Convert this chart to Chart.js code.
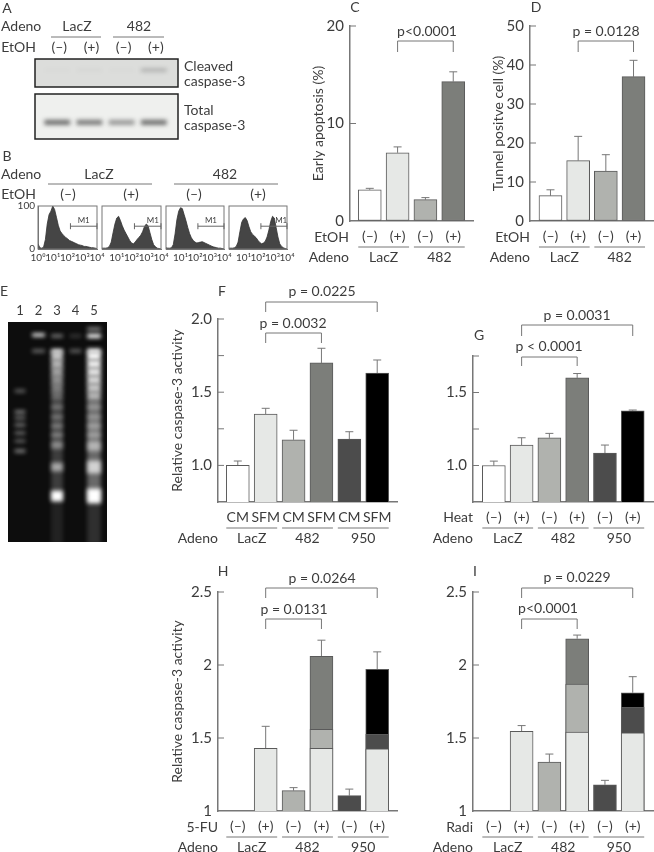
<!DOCTYPE html>
<html>
<head>
<meta charset="utf-8">
<script src="https://cdn.jsdelivr.net/npm/chart.js@4"></script>
<style>
body { margin: 0; background: #fff; }
canvas { position: absolute; left: 0; top: 0; }
</style>
</head>
<body>
<canvas id="blot" width="654" height="852"></canvas>
<canvas id="hist1" width="654" height="852"></canvas>
<canvas id="hist2" width="654" height="852"></canvas>
<canvas id="hist3" width="654" height="852"></canvas>
<canvas id="hist4" width="654" height="852"></canvas>
<canvas id="gel" width="654" height="852"></canvas>
<canvas id="panelC" width="654" height="852"></canvas>
<canvas id="panelD" width="654" height="852"></canvas>
<canvas id="panelF" width="654" height="852"></canvas>
<canvas id="panelG" width="654" height="852"></canvas>
<canvas id="panelH" width="654" height="852"></canvas>
<canvas id="panelI" width="654" height="852"></canvas>
<script>
// ---- data ----
var signLabels = ['(–)', '(+)', '(–)', '(+)'];
var signLabels6 = ['(–)', '(+)', '(–)', '(+)', '(–)', '(+)'];
var mediumLabels = ['CM', 'SFM', 'CM', 'SFM', 'CM', 'SFM'];

// A: band strength per lane
var cleavedBand = [0.02, 0.03, 0.02, 0.3];
var totalBand = [0.62, 0.56, 0.42, 0.62];

// B: histogram heights, every 1/8 decade from 10^0 to 10^4
var decades = [0, 0.125, 0.25, 0.375, 0.5, 0.625, 0.75, 0.875, 1, 1.125, 1.25, 1.375, 1.5, 1.625, 1.75, 1.875, 2, 2.125, 2.25, 2.375, 2.5, 2.625, 2.75, 2.875, 3, 3.125, 3.25, 3.375, 3.5, 3.625, 3.75, 3.875, 4];
var hist1Counts = [12, 3, 2, 4, 22, 58, 80, 88, 100, 92, 74, 55, 42, 36, 31, 27, 24, 20, 18, 16, 14, 12, 10, 9, 8, 6, 6, 5, 4, 3, 3, 2, 1];
var hist2Counts = [2, 2, 2, 3, 6, 16, 38, 58, 72, 76, 66, 54, 44, 36, 28, 20, 14, 12, 16, 22, 27, 32, 40, 52, 58, 54, 38, 22, 10, 5, 2, 1, 0];
var hist3Counts = [3, 2, 2, 3, 10, 35, 68, 88, 96, 94, 80, 66, 50, 36, 26, 20, 16, 14, 15, 16, 17, 15, 13, 11, 9, 7, 5, 4, 3, 2, 2, 1, 0];
var hist4Counts = [2, 2, 2, 3, 6, 16, 40, 62, 70, 73, 66, 52, 40, 34, 30, 26, 20, 15, 12, 14, 18, 28, 44, 64, 76, 72, 50, 28, 12, 6, 3, 1, 0];
var decadeLabels = ['10⁰', '10¹', '10²', '10³', '10⁴'];

// E: lanes, band position down the gel, half height, brightness
var laneNames = ['1', '2', '3', '4', '5'];
var lane1Pos = [69, 90, 96, 103, 111, 119, 129];
var lane1Half = [1.2, 1.2, 1.2, 1.2, 1.2, 1.2, 1.4];
var lane1Glow = [0.4, 0.55, 0.45, 0.5, 0.45, 0.4, 0.5];
var lane2Pos = [13, 29];
var lane2Half = [1.4, 1.2];
var lane2Glow = [0.95, 0.45];
var lane3Pos = [14, 29, 34, 42, 50, 58, 66, 74, 128, 85, 95, 104, 113, 123, 145, 174, 200];
var lane3Half = [1.2, 1.5, 4, 4, 4, 4, 4, 4, 50, 2.5, 2.5, 2.5, 2.5, 3.5, 4, 5, 22];
var lane3Glow = [0.5, 1, 0.75, 0.68, 0.6, 0.52, 0.45, 0.38, 0.2, 0.28, 0.28, 0.32, 0.35, 0.4, 0.55, 1, 0.09];
var lane4Pos = [14, 29];
var lane4Half = [1.2, 1.3];
var lane4Glow = [0.2, 0.4];
var lane5Pos = [7, 14, 29, 34, 42, 50, 58, 66, 74, 128, 85, 95, 104, 113, 124, 145, 174, 200];
var lane5Half = [1.2, 1.8, 2, 4, 4, 4, 4, 4, 4, 50, 2.5, 2.5, 3, 3, 4.5, 6, 7, 22];
var lane5Glow = [0.6, 1, 1, 0.95, 0.92, 0.88, 0.82, 0.75, 0.68, 0.38, 0.3, 0.3, 0.36, 0.36, 0.5, 0.7, 1, 0.14];

// C, D
var cValues = [3.2, 7.0, 2.2, 14.3];
var cErrTops = [3.35, 7.6, 2.4, 15.3];
var dValues = [6.5, 15.5, 12.8, 37];
var dErrTops = [8, 21.7, 17, 41.2];

// F, G
var fValues = [1.0, 1.35, 1.175, 1.70, 1.18, 1.63];
var fErrTops = [1.03, 1.39, 1.24, 1.80, 1.23, 1.72];
var gValues = [1.0, 1.14, 1.19, 1.60, 1.085, 1.375];
var gErrTops = [1.03, 1.19, 1.22, 1.63, 1.14, 1.38];

// H, I: cumulative levels of the segments in each column
var hBase = [null, 1.43, 1.14, 1.43, 1.105, 1.425];
var hMid = [null, null, null, 1.56, null, 1.525];
var hTop = [null, null, null, 2.06, null, 1.97];
var hErrTops = [null, 1.58, 1.16, 2.17, 1.15, 2.09];
var iBase = [null, 1.545, 1.335, 1.54, 1.18, 1.535];
var iMid = [null, null, null, 1.87, null, 1.71];
var iTop = [null, null, null, 2.18, null, 1.81];
var iErrTops = [null, 1.585, 1.39, 2.205, 1.21, 1.92];

// ---- look ----
var WHITE = '#ffffff', PALE = '#e6e8e6', MID = '#b0b2ae', DARK = '#7c7e7a', SLATE = '#4c4c4c', BLACK = '#000000';
var INK = '#3c3c3c', RULE = '#777777', EDGE = '#5a5a5a';
var FONT = 'Lato';

Chart.defaults.font.family = FONT;
Chart.defaults.font.size = 14;
Chart.defaults.color = INK;
Chart.defaults.animation = false;
Chart.defaults.responsive = false;
Chart.defaults.devicePixelRatio = 1;
Chart.defaults.plugins.legend.display = false;
Chart.defaults.plugins.tooltip.enabled = false;

function text(ctx, str, x, y, align, size) {
    ctx.save();
    ctx.font = (size || 14) + 'px ' + FONT;
    ctx.fillStyle = INK;
    ctx.textAlign = align || 'center';
    ctx.textBaseline = 'middle';
    ctx.fillText(str, x, y);
    ctx.restore();
}

function rule(ctx, x1, y1, x2, y2, color, w) {
    ctx.save();
    ctx.strokeStyle = color || RULE;
    ctx.lineWidth = w || 1;
    ctx.beginPath();
    ctx.moveTo(x1, y1);
    ctx.lineTo(x2, y2);
    ctx.stroke();
    ctx.restore();
}

function xy(values) {
    return values.map(function (v, i) { return { x: i, y: v }; });
}

// tick labels must not push the plot area around
function noMargins(s) {
    s.paddingLeft = 0;
    s.paddingRight = 0;
    s.paddingTop = 0;
    s.paddingBottom = 0;
}

// cfg.plot = [left, top, right, bottom] in page pixels
function barPanel(id, cfg) {
    var p = cfg.plot;
    var barW = 23;
    var decor = {
        id: 'decor',
        beforeDatasetsDraw: function (chart) {
            var ctx = chart.ctx, y = chart.scales.y;
            cfg.yTicks.forEach(function (v) {
                if (v !== cfg.yMin) rule(ctx, p[0], y.getPixelForValue(v), p[0] + 6, y.getPixelForValue(v));
            });
            // error bars, upward only
            var x = chart.scales.x;
            cfg.errTops.forEach(function (top, i) {
                if (top === null) return;
                var px = x.getPixelForValue(i);
                var from = y.getPixelForValue(cfg.barTops[i]);
                var to = y.getPixelForValue(top);
                rule(ctx, px, from, px, to);
                rule(ctx, px - 4, to, px + 4, to);
            });
        },
        afterDraw: function (chart) {
            var ctx = chart.ctx, x = chart.scales.x;
            cfg.groups.forEach(function (g) {
                var a = x.getPixelForValue(g.from) - barW / 2, b = x.getPixelForValue(g.to) + barW / 2;
                rule(ctx, a, cfg.groupLineY, b, cfg.groupLineY);
                text(ctx, g.name, (a + b) / 2, cfg.groupLineY + 10);
            });
            cfg.brackets.forEach(function (b) {
                var a = x.getPixelForValue(b.from), c = x.getPixelForValue(b.to);
                rule(ctx, a, b.top, c, b.top);
                rule(ctx, a, b.top, a, b.bottom);
                rule(ctx, c, b.top, c, b.bottom);
                text(ctx, b.label, b.textX, b.textY);
            });
            cfg.notes.forEach(function (n) { text(ctx, n[0], n[1], n[2], n[3], n[4]); });
        }
    };
    return new Chart(document.getElementById(id), {
        type: 'bar',
        data: { datasets: cfg.datasets },
        options: {
            layout: { padding: { left: cfg.titleLeft, top: p[1], right: 654 - p[2], bottom: 0 } },
            datasets: { bar: { barThickness: barW, grouped: false, borderWidth: 1, borderColor: EDGE, borderSkipped: false } },
            scales: {
                x: {
                    type: 'linear', offset: false, min: cfg.xMin, max: cfg.xMax,
                    afterFit: function (s) { s.height = 852 - p[3]; noMargins(s); },
                    afterBuildTicks: function (s) { s.ticks = cfg.xLabels.map(function (l, i) { return { value: i }; }); },
                    grid: { drawOnChartArea: false, drawTicks: false },
                    border: { color: RULE, width: 1.5 },
                    ticks: {
                        autoSkip: false, maxRotation: 0, padding: 7, font: { size: 14 },
                        callback: function (v) { return cfg.xLabels[v]; }
                    }
                },
                y: {
                    min: cfg.yMin, max: cfg.yMax,
                    afterFit: function (s) { s.width = p[0] - cfg.titleLeft; noMargins(s); },
                    afterBuildTicks: function (s) { s.ticks = cfg.yTicks.map(function (v) { return { value: v }; }); },
                    grid: { drawOnChartArea: false, drawTicks: false },
                    border: { color: RULE, width: 1.5 },
                    title: { display: true, text: cfg.yTitle, font: { size: 14 }, padding: 0, color: INK },
                    ticks: {
                        padding: 6, font: { size: 15 },
                        callback: function (v) { return cfg.yLabels[cfg.yTicks.indexOf(v)]; }
                    }
                }
            }
        },
        plugins: [decor]
    });
}

function plainBars(values, colors) {
    return [{ data: xy(values), backgroundColor: colors }];
}

function layeredBars(base, mid, top) {
    // first dataset is painted last in Chart.js
    return [
        { data: xy(base), backgroundColor: [WHITE, PALE, MID, PALE, SLATE, PALE] },
        { data: xy(mid), backgroundColor: [WHITE, WHITE, WHITE, MID, WHITE, SLATE] },
        { data: xy(top), backgroundColor: [WHITE, WHITE, WHITE, DARK, WHITE, BLACK] }
    ];
}

var fourColors = [WHITE, PALE, MID, DARK];
var sixColors = [WHITE, PALE, MID, DARK, SLATE, BLACK];

barPanel('panelC', {
    plot: [350, 26, 473, 221], titleLeft: 310,
    yMin: 0, yMax: 20, yTicks: [0, 10, 20], yLabels: ['0', '10', '20'], yTitle: 'Early apoptosis (%)',
    xMin: -0.71, xMax: 3.71, xLabels: signLabels,
    datasets: plainBars(cValues, fourColors), barTops: cValues, errTops: cErrTops,
    groupLineY: 247,
    groups: [{ name: 'LacZ', from: 0, to: 1 }, { name: '482', from: 2, to: 3 }],
    brackets: [{ from: 1, to: 3, top: 41, bottom: 52, label: 'p<0.0001', textX: 427, textY: 31 }],
    notes: [['C', 355, 7], ['EtOH', 349, 237, 'right'], ['Adeno', 349, 257, 'right']]
});

barPanel('panelD', {
    plot: [530, 26, 654, 221], titleLeft: 490,
    yMin: 0, yMax: 50, yTicks: [0, 10, 20, 30, 40, 50], yLabels: ['0', '10', '20', '30', '40', '50'], yTitle: 'Tunnel positve cell (%)',
    xMin: -0.74, xMax: 3.74, xLabels: signLabels,
    datasets: plainBars(dValues, fourColors), barTops: dValues, errTops: dErrTops,
    groupLineY: 247,
    groups: [{ name: 'LacZ', from: 0, to: 1 }, { name: '482', from: 2, to: 3 }],
    brackets: [{ from: 1, to: 3, top: 41, bottom: 52, label: 'p = 0.0128', textX: 606, textY: 31 }],
    notes: [['D', 536, 7], ['EtOH', 530, 237, 'right'], ['Adeno', 530, 257, 'right']]
});

barPanel('panelF', {
    plot: [218, 319, 397, 502], titleLeft: 169,
    yMin: 0.75, yMax: 2, yTicks: [0.75, 1, 1.25, 1.5, 1.75, 2], yLabels: ['', '1.0', '', '1.5', '', '2.0'], yTitle: 'Relative caspase-3 activity',
    xMin: -0.71, xMax: 5.71, xLabels: mediumLabels,
    datasets: plainBars(fValues, sixColors), barTops: fValues, errTops: fErrTops,
    groupLineY: 528,
    groups: [{ name: 'LacZ', from: 0, to: 1 }, { name: '482', from: 2, to: 3 }, { name: '950', from: 4, to: 5 }],
    brackets: [
        { from: 1, to: 5, top: 302, bottom: 312, label: 'p = 0.0225', textX: 322, textY: 291 },
        { from: 1, to: 3, top: 333, bottom: 343, label: 'p = 0.0032', textX: 293, textY: 323 }
    ],
    notes: [['F', 222, 291], ['Adeno', 218, 538, 'right']]
});

barPanel('panelG', {
    plot: [473, 356, 653, 502], titleLeft: 440,
    yMin: 0.75, yMax: 1.75, yTicks: [0.75, 1, 1.25, 1.5, 1.75], yLabels: ['', '1.0', '', '1.5', ''], yTitle: '',
    xMin: -0.75, xMax: 5.73, xLabels: signLabels6,
    datasets: plainBars(gValues, sixColors), barTops: gValues, errTops: gErrTops,
    groupLineY: 528,
    groups: [{ name: 'LacZ', from: 0, to: 1 }, { name: '482', from: 2, to: 3 }, { name: '950', from: 4, to: 5 }],
    brackets: [
        { from: 1, to: 5, top: 325, bottom: 336, label: 'p = 0.0031', textX: 577, textY: 315 },
        { from: 1, to: 3, top: 357, bottom: 366, label: 'p < 0.0001', textX: 549, textY: 346 }
    ],
    notes: [['G', 479, 335], ['Heat', 473, 517, 'right'], ['Adeno', 473, 538, 'right']]
});

barPanel('panelH', {
    plot: [218, 592, 397, 811], titleLeft: 169,
    yMin: 1, yMax: 2.5, yTicks: [1, 1.5, 2, 2.5], yLabels: ['1', '1.5', '2', '2.5'], yTitle: 'Relative caspase-3 activity',
    xMin: -0.71, xMax: 5.71, xLabels: signLabels6,
    datasets: layeredBars(hBase, hMid, hTop), barTops: [null, 1.43, 1.14, 2.06, 1.105, 1.97], errTops: hErrTops,
    groupLineY: 837,
    groups: [{ name: 'LacZ', from: 0, to: 1 }, { name: '482', from: 2, to: 3 }, { name: '950', from: 4, to: 5 }],
    brackets: [
        { from: 1, to: 5, top: 588, bottom: 598, label: 'p = 0.0264', textX: 322, textY: 578 },
        { from: 1, to: 3, top: 619, bottom: 629, label: 'p = 0.0131', textX: 294, textY: 609 }
    ],
    notes: [['H', 223, 571], ['5-FU', 218, 827, 'right'], ['Adeno', 218, 847, 'right']]
});

barPanel('panelI', {
    plot: [473, 592, 653, 811], titleLeft: 440,
    yMin: 1, yMax: 2.5, yTicks: [1, 1.5, 2, 2.5], yLabels: ['1', '1.5', '2', '2.5'], yTitle: '',
    xMin: -0.75, xMax: 5.73, xLabels: signLabels6,
    datasets: layeredBars(iBase, iMid, iTop), barTops: [null, 1.545, 1.335, 2.18, 1.18, 1.81], errTops: iErrTops,
    groupLineY: 837,
    groups: [{ name: 'LacZ', from: 0, to: 1 }, { name: '482', from: 2, to: 3 }, { name: '950', from: 4, to: 5 }],
    brackets: [
        { from: 1, to: 5, top: 588, bottom: 598, label: 'p = 0.0229', textX: 577, textY: 577 },
        { from: 1, to: 3, top: 619, bottom: 629, label: 'p<0.0001', textX: 548, textY: 608 }
    ],
    notes: [['I', 475, 571], ['Radi', 473, 827, 'right'], ['Adeno', 473, 847, 'right']]
});

// ---- A: blots, bands are blurred bars ----
new Chart(document.getElementById('blot'), {
    type: 'bar',
    data: {
        datasets: [
            {
                data: cleavedBand.map(function (v, i) { return { x: i, y: [9, 11] }; }),
                backgroundColor: cleavedBand.map(function (a) { return 'rgba(40,40,40,' + a + ')'; })
            },
            {
                data: totalBand.map(function (v, i) { return { x: i, y: [55, 59] }; }),
                backgroundColor: totalBand.map(function (a) { return 'rgba(30,30,30,' + a + ')'; })
            }
        ]
    },
    options: {
        layout: { padding: { left: 35, top: 59, right: 654 - 178, bottom: 0 } },
        datasets: { bar: { barThickness: 25, grouped: false } },
        scales: {
            x: {
                type: 'linear', offset: false, position: 'top', min: -0.69, max: 3.75,
                afterBuildTicks: function (s) { s.ticks = signLabels.map(function (l, i) { return { value: i }; }); },
                afterFit: function (s) { s.height = 0; noMargins(s); },
                grid: { display: false }, border: { display: false },
                ticks: { display: false }
            },
            y: { display: false, reverse: true, min: 0, max: 713 }
        }
    },
    plugins: [{
        id: 'boxes',
        beforeDatasetsDraw: function (chart) {
            var ctx = chart.ctx;
            ctx.fillStyle = '#dcdddb';
            ctx.fillRect(35, 59, 143, 28);
            ctx.fillStyle = '#eff0ee';
            ctx.fillRect(35, 94, 143, 45);
            ctx.filter = 'blur(2px)';
        },
        afterDatasetsDraw: function (chart) {
            var ctx = chart.ctx, x = chart.scales.x;
            ctx.filter = 'none';
            ctx.strokeStyle = '#222';
            ctx.lineWidth = 1.5;
            ctx.strokeRect(35, 59, 143, 28);
            ctx.strokeRect(35, 94, 143, 45);
            signLabels.forEach(function (l, i) { text(ctx, l, x.getPixelForValue(i) + 2, 47); });
            rule(ctx, 51, 37, 101, 37);
            rule(ctx, 113, 37, 164, 37);
            text(ctx, 'A', 7, 8);
            text(ctx, 'Adeno', 1, 26, 'left');
            text(ctx, 'EtOH', 36, 47, 'right');
            text(ctx, 'LacZ', 77, 26);
            text(ctx, '482', 139, 26);
            text(ctx, 'Cleaved', 184, 66, 'left');
            text(ctx, 'caspase-3', 184, 81, 'left');
            text(ctx, 'Total', 184, 110, 'left');
            text(ctx, 'caspase-3', 184, 125, 'left');
            text(ctx, 'B', 7, 156);
            text(ctx, 'Adeno', 1, 174, 'left');
            text(ctx, 'EtOH', 36, 194, 'right');
            text(ctx, 'LacZ', 99, 174);
            text(ctx, '482', 225, 174);
            rule(ctx, 48, 184, 152, 184);
            rule(ctx, 174, 184, 278, 184);
            [68, 131, 194, 258].forEach(function (px, i) { text(ctx, i % 2 ? '(+)' : '(–)', px, 194); });
        }
    }]
});

// ---- B: flow cytometry histograms ----
function histPanel(id, counts, box, m1From, m1Label, first) {
    return new Chart(document.getElementById(id), {
        type: 'line',
        data: {
            datasets: [{
                data: counts.map(function (c, i) { return { x: decades[i], y: c }; }),
                borderColor: '#333', backgroundColor: '#454545', borderWidth: 0.8,
                pointRadius: 0, fill: 'origin', tension: 0
            }]
        },
        options: {
            layout: { padding: { left: first ? 0 : box[0], top: box[1], right: 654 - box[2], bottom: 0 } },
            scales: {
                x: {
                    type: 'linear', min: 0, max: 4,
                    afterFit: function (s) { s.height = 852 - box[3]; noMargins(s); },
                    afterBuildTicks: function (s) { s.ticks = decadeLabels.map(function (l, i) { return { value: i }; }); },
                    grid: { drawOnChartArea: false, drawTicks: false },
                    border: { color: RULE },
                    ticks: {
                        autoSkip: false, maxRotation: 0, padding: 3, font: { size: 10 },
                        callback: function (v) { return v === 0 && !first ? '' : decadeLabels[v]; }
                    }
                },
                y: {
                    display: first, min: 0, max: 100,
                    afterFit: function (s) { s.width = first ? box[0] : 0; noMargins(s); },
                    afterBuildTicks: function (s) { s.ticks = [{ value: 0 }, { value: 100 }]; },
                    grid: { drawOnChartArea: false, drawTicks: false },
                    border: { color: RULE },
                    ticks: { padding: 3, font: { size: 10 } }
                }
            }
        },
        plugins: [{
            id: 'm1',
            afterDraw: function (chart) {
                var ctx = chart.ctx, x = chart.scales.x, y = chart.scales.y;
                ctx.strokeStyle = RULE;
                ctx.strokeRect(box[0], box[1], box[2] - box[0], box[3] - box[1]);
                var a = x.getPixelForValue(m1From), b = x.getPixelForValue(4), my = y.getPixelForValue(53);
                rule(ctx, a, my, b, my, '#666');
                rule(ctx, a, my - 3, a, my + 3, '#666');
                rule(ctx, b, my - 3, b, my + 3, '#666');
                text(ctx, 'M1', x.getPixelForValue(m1Label), my - 6, 'center', 8);
            }
        }]
    });
}

histPanel('hist1', hist1Counts, [38, 206, 97, 249], 2.2, 3.1, true);
histPanel('hist2', hist2Counts, [102, 206, 161, 249], 2.2, 3.45, false);
histPanel('hist3', hist3Counts, [166, 206, 224, 249], 2.2, 3.1, false);
histPanel('hist4', hist4Counts, [229, 206, 287, 249], 2.2, 3.6, false);

// ---- E: gel, bands are blurred floating bars ----
function laneSet(lane, pos, half, glow, width) {
    return {
        data: pos.map(function (p, i) { return { x: lane, y: [p - half[i], p + half[i]] }; }),
        backgroundColor: glow.map(function (a) { return 'rgba(255,255,255,' + a + ')'; }),
        barThickness: width
    };
}

new Chart(document.getElementById('gel'), {
    type: 'bar',
    data: {
        datasets: [
            laneSet(1, lane1Pos, lane1Half, lane1Glow, 10),
            laneSet(2, lane2Pos, lane2Half, lane2Glow, 12),
            laneSet(3, lane3Pos, lane3Half, lane3Glow, 11),
            laneSet(4, lane4Pos, lane4Half, lane4Glow, 11),
            laneSet(5, lane5Pos, lane5Half, lane5Glow, 13)
        ]
    },
    options: {
        layout: { padding: { left: 8, top: 300, right: 654 - 107, bottom: 852 - 542 } },
        datasets: { bar: { grouped: false } },
        scales: {
            x: {
                type: 'linear', offset: false, position: 'top', min: 0.35, max: 5.7,
                afterFit: function (s) { s.height = 22; noMargins(s); },
                afterBuildTicks: function (s) { s.ticks = laneNames.map(function (l, i) { return { value: i + 1 }; }); },
                grid: { display: false }, border: { display: false },
                ticks: {
                    autoSkip: false, maxRotation: 0, padding: -5, font: { size: 13 },
                    callback: function (v) { return laneNames[v - 1]; }
                }
            },
            y: { display: false, reverse: true, min: 0, max: 220 }
        }
    },
    plugins: [{
        id: 'gelBack',
        beforeDatasetsDraw: function (chart) {
            var ctx = chart.ctx, a = chart.chartArea;
            ctx.fillStyle = '#0d0d0d';
            ctx.fillRect(a.left, a.top, a.right - a.left, a.bottom - a.top);
            ctx.filter = 'blur(2px)';
        },
        afterDatasetsDraw: function (chart) {
            chart.ctx.filter = 'none';
            text(chart.ctx, 'E', 4, 291);
        }
    }]
});
</script>
</body>
</html>
